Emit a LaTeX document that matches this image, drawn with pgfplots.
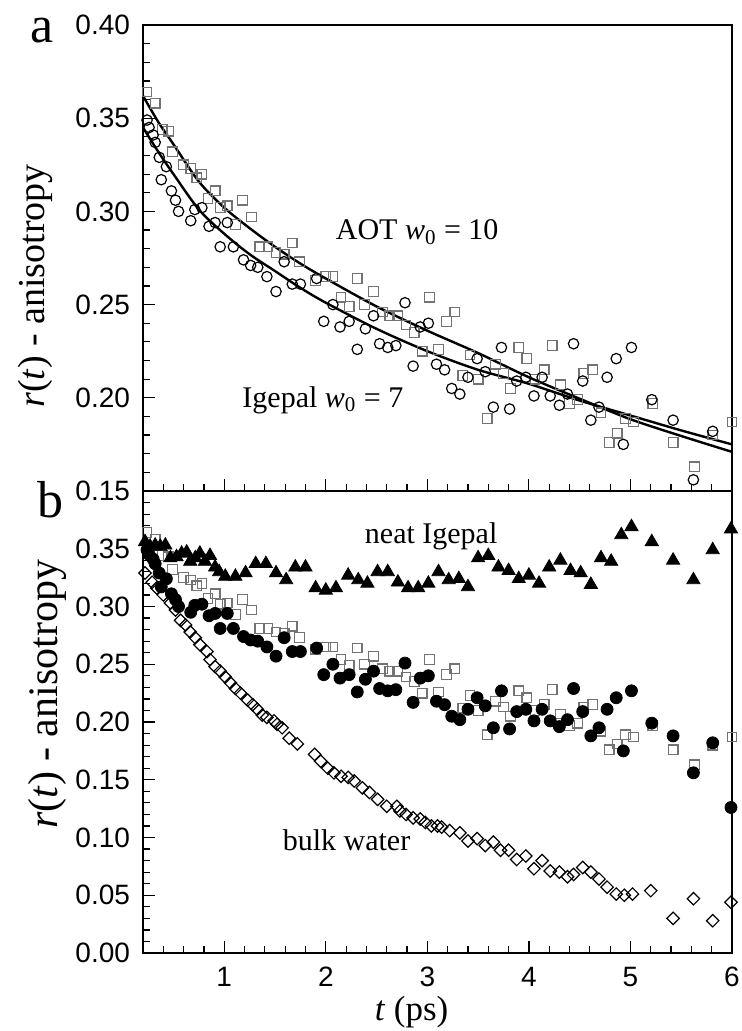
\documentclass[border=0pt]{standalone}
\usepackage{fontspec}
\setmainfont{Liberation Serif}
\newfontfamily\arialfont{Liberation Sans}
\usepackage{pgfplots}
\usepackage{pgfplotstable}
\pgfplotsset{compat=1.18}

% AOT w0 = 10 (open squares)
\pgfplotstableread{
t r
0.24 0.364
0.32 0.358
0.39 0.344
0.45 0.343
0.49 0.332
0.60 0.325
0.67 0.323
0.73 0.318
0.78 0.320
0.84 0.307
0.91 0.311
0.96 0.302
1.03 0.303
1.11 0.293
1.18 0.306
1.27 0.297
1.35 0.281
1.43 0.281
1.51 0.278
1.59 0.277
1.67 0.283
1.74 0.273
1.90 0.263
2.00 0.265
2.07 0.265
2.15 0.254
2.23 0.249
2.31 0.264
2.38 0.250
2.47 0.257
2.56 0.246
2.63 0.244
2.71 0.244
2.79 0.239
2.87 0.235
2.95 0.225
3.02 0.254
3.11 0.226
3.19 0.241
3.27 0.246
3.35 0.212
3.42 0.223
3.50 0.210
3.59 0.189
3.67 0.218
3.75 0.213
3.82 0.205
3.90 0.227
3.98 0.221
4.06 0.210
4.15 0.215
4.23 0.228
4.31 0.207
4.40 0.197
4.48 0.199
4.54 0.213
4.63 0.215
4.71 0.192
4.79 0.176
4.87 0.181
4.95 0.189
5.03 0.187
5.22 0.197
5.42 0.176
5.63 0.163
5.81 0.180
6.00 0.187
}\aot

% Igepal w0 = 7 (circles)
\pgfplotstableread{
t r
0.24 0.349
0.26 0.345
0.30 0.341
0.32 0.337
0.36 0.329
0.38 0.317
0.43 0.324
0.48 0.311
0.52 0.306
0.55 0.300
0.67 0.295
0.71 0.301
0.78 0.302
0.85 0.292
0.91 0.294
0.96 0.281
1.03 0.294
1.09 0.281
1.19 0.274
1.26 0.271
1.33 0.270
1.42 0.265
1.51 0.257
1.59 0.273
1.67 0.261
1.75 0.261
1.91 0.264
1.98 0.241
2.07 0.250
2.14 0.238
2.23 0.241
2.31 0.226
2.39 0.237
2.47 0.244
2.53 0.229
2.61 0.227
2.69 0.228
2.78 0.251
2.86 0.217
2.93 0.238
3.01 0.240
3.09 0.218
3.17 0.215
3.24 0.205
3.32 0.202
3.40 0.211
3.49 0.221
3.57 0.214
3.65 0.195
3.73 0.227
3.81 0.194
3.88 0.209
3.97 0.211
4.05 0.201
4.13 0.211
4.21 0.201
4.30 0.196
4.38 0.202
4.44 0.229
4.53 0.209
4.61 0.188
4.69 0.195
4.77 0.211
4.86 0.221
4.93 0.175
5.01 0.227
5.21 0.199
5.42 0.188
5.62 0.156
5.81 0.182
5.99 0.126
}\igepal

% neat Igepal (filled triangles)
\pgfplotstableread{
t r
0.22 0.356
0.27 0.352
0.32 0.353
0.37 0.352
0.42 0.353
0.47 0.342
0.53 0.343
0.58 0.346
0.63 0.347
0.665 0.339
0.715 0.342
0.76 0.346
0.81 0.339
0.86 0.344
0.91 0.334
0.95 0.330
1.01 0.326
1.11 0.326
1.21 0.329
1.31 0.337
1.41 0.337
1.51 0.329
1.61 0.323
1.70 0.334
1.80 0.334
1.90 0.316
2.00 0.314
2.10 0.316
2.22 0.327
2.32 0.323
2.41 0.320
2.51 0.330
2.61 0.330
2.71 0.321
2.81 0.316
2.91 0.316
3.01 0.320
3.11 0.330
3.21 0.323
3.31 0.324
3.40 0.317
3.50 0.342
3.60 0.344
3.70 0.334
3.80 0.331
3.90 0.324
4.00 0.327
4.10 0.320
4.20 0.334
4.31 0.340
4.41 0.331
4.51 0.329
4.61 0.319
4.71 0.342
4.81 0.339
4.91 0.362
5.01 0.369
5.21 0.356
5.42 0.340
5.62 0.323
5.81 0.349
5.99 0.367
}\neat

% bulk water (open diamonds)
\pgfplotstableread{
t r
0.22 0.329
0.29 0.321
0.335 0.316
0.40 0.310
0.47 0.303
0.52 0.297
0.57 0.288
0.62 0.284
0.665 0.278
0.715 0.273
0.76 0.267
0.83 0.261
0.86 0.254
0.91 0.248
0.96 0.244
1.01 0.239
1.06 0.234
1.11 0.229
1.16 0.225
1.23 0.219
1.28 0.215
1.325 0.211
1.375 0.206
1.42 0.204
1.49 0.201
1.52 0.198
1.57 0.195
1.64 0.186
1.72 0.181
1.89 0.172
1.95 0.166
2.02 0.160
2.08 0.156
2.15 0.153
2.22 0.152
2.28 0.149
2.36 0.143
2.43 0.139
2.51 0.133
2.60 0.127
2.70 0.127
2.73 0.123
2.79 0.120
2.86 0.117
2.93 0.116
2.98 0.113
3.04 0.110
3.10 0.110
3.14 0.109
3.22 0.106
3.32 0.104
3.40 0.097
3.49 0.099
3.57 0.093
3.65 0.096
3.72 0.089
3.80 0.089
3.88 0.081
3.97 0.084
4.05 0.073
4.13 0.080
4.21 0.071
4.30 0.070
4.38 0.066
4.44 0.068
4.53 0.074
4.61 0.070
4.69 0.064
4.77 0.057
4.86 0.051
4.94 0.050
5.02 0.051
5.20 0.054
5.42 0.030
5.62 0.047
5.81 0.028
5.99 0.044
}\bulk

% fitted decays
\pgfplotstableread{
t r
0.2 0.362
0.35 0.348
0.5 0.336
0.75 0.316
1.0 0.302
1.25 0.291
1.5 0.281
1.75 0.272
2.0 0.264
2.5 0.249
3.0 0.236
3.5 0.224
4.0 0.211
4.5 0.1995
5.0 0.1885
5.5 0.1795
6.0 0.171
}\aotfit
\pgfplotstableread{
t r
0.2 0.345
0.35 0.332
0.5 0.320
0.75 0.301
1.0 0.288
1.25 0.277
1.5 0.268
1.75 0.259
2.0 0.251
2.5 0.237
3.0 0.225
3.5 0.215
4.0 0.2075
4.5 0.1985
5.0 0.1905
5.5 0.1825
6.0 0.175
}\igepalfit

\pgfplotsset{
  panel/.style={
    width=294.5pt, scale only axis,
    xmin=0.2, xmax=6,
    axis line style={line width=0.9pt},
    tick align=inside, xtick pos=bottom, ytick pos=left,
    major tick length=6pt, minor tick length=3.3pt,
    every tick/.style={black, line width=0.6pt},
    xtick={1,2,3,4,5,6},
    minor xtick={0.4,0.6,...,5.8},
    minor y tick num=4,
    tick label style={font=\arialfont\fontsize{14}{14}\selectfont},
    yticklabel style={xshift=-3pt},
    xticklabel style={yshift=-3.5pt},
  },
  sq/.style={only marks, mark=square, mark size=2.4pt, color=black!55,
    mark options={line width=0.6pt}},
  oc/.style={only marks, mark=o, mark size=2.6pt, color=black,
    mark options={line width=0.6pt}},
  fit/.style={no marks, smooth, black, line width=1.2pt},
}

\begin{document}
\begin{tikzpicture}
\path[use as bounding box] (0,0) rectangle (371pt,-515.5pt);

\begin{axis}[panel,
  at={(71.5pt,-12.5pt)}, anchor=north west,
  height=233pt,
  ymin=0.15, ymax=0.40,
  ytick={0.15,0.2,0.25,0.3,0.35,0.4},
  yticklabels={0.15,0.20,0.25,0.30,0.35,0.40},
  xticklabels={},
  ylabel={\textit{r}(\textit{t}) - anisotropy},
  ylabel style={font=\fontsize{19}{19}\selectfont,
    at={(axis description cs:-0.1834,0.44)}, anchor=center},
]
\addplot[sq] table[x=t, y=r] {\aot};
\addplot[oc] table[x=t, y=r] {\igepal};
\addplot[fit] table[x=t, y=r] {\aotfit};
\addplot[fit] table[x=t, y=r] {\igepalfit};
\node[anchor=base west, font=\fontsize{15}{15}\selectfont]
  at (axis cs:2.03,0.2847) {AOT \textit{w}\textsubscript{0} = 10};
\node[anchor=base west, font=\fontsize{15}{15}\selectfont]
  at (axis cs:1.11,0.195) {Igepal \textit{w}\textsubscript{0} = 7};
\end{axis}

\begin{axis}[panel,
  at={(71.5pt,-245.5pt)}, anchor=north west,
  height=231pt,
  ymin=0, ymax=0.40,
  ytick={0,0.05,0.1,0.15,0.2,0.25,0.3,0.35,0.4},
  yticklabels={0.00,0.05,0.10,0.15,0.20,0.25,0.30,0.35,{}},
  xticklabels={1,2,3,4,5,6},
  ylabel={\textit{r}(\textit{t}) - anisotropy},
  ylabel style={font=\fontsize{21}{21}\selectfont,
    at={(axis description cs:-0.163,0.56)}, anchor=center},
  xlabel={\textit{t} (ps)},
  xlabel style={font=\fontsize{17.5}{17.5}\selectfont,
    at={(axis description cs:0.456,-0.128)}, anchor=center},
]
\addplot[only marks, mark=square, mark size=2.2pt, black,
  mark options={rotate=45, fill=white, line width=0.6pt}] table[x=t, y=r] {\bulk};
\addplot[sq] table[x=t, y=r] {\aot};
\addplot[only marks, mark=*, mark size=3pt, black] table[x=t, y=r] {\igepal};
\addplot[only marks, mark=triangle*, mark size=3.8pt, black] table[x=t, y=r] {\neat};
\node[anchor=base west, font=\fontsize{15}{15}\selectfont]
  at (axis cs:2.316,0.3546) {neat Igepal};
\node[anchor=base west, font=\fontsize{15}{15}\selectfont]
  at (axis cs:1.507,0.0888) {bulk water};
\end{axis}

\node[anchor=base west, font=\fontsize{26}{26}\selectfont] at (11.5pt,-21.5pt) {a};
\node[anchor=base west, font=\fontsize{26}{26}\selectfont] at (15pt,-258.5pt) {b};
\end{tikzpicture}
\end{document}
